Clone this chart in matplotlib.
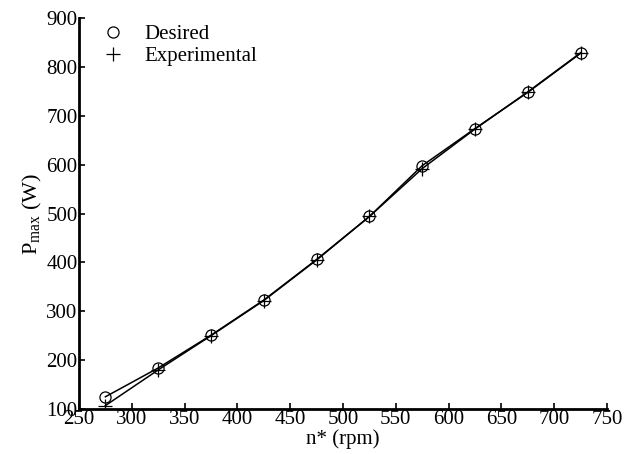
import matplotlib
matplotlib.use('Agg')
import matplotlib.pyplot as plt

# speed (rpm) and max power (W)
speed = [275, 325, 375, 425, 475, 525, 575, 625, 675, 725]
desired = [125, 184, 251, 323, 406, 494, 598, 674, 748, 828]
experimental = [107, 180, 250, 322, 405, 494, 592, 673, 749, 829]

x_ticks = [250, 300, 350, 400, 450, 500, 550, 600, 650, 700, 750]
y_ticks = [100, 200, 300, 400, 500, 600, 700, 800, 900]

plt.rcParams['font.family'] = ['Liberation Serif', 'DejaVu Serif']
plt.rcParams['mathtext.fontset'] = 'custom'
plt.rcParams['mathtext.rm'] = 'Liberation Serif'
plt.rcParams['font.size'] = 15

fig = plt.figure(figsize=(6.34, 4.54), dpi=100)
ax = fig.add_axes([0.1246, 0.0991, 0.8329, 0.8611])

ax.plot(speed, desired, color='black', lw=1.1, marker='o', markersize=8,
        markerfacecolor='none', markeredgewidth=0.9, label='Desired')
ax.plot(speed, experimental, color='black', lw=1.1, marker='+', markersize=10,
        markeredgewidth=0.9, label='Experimental')

ax.set_xlim(250, 750)
ax.set_ylim(100, 900)
ax.set_xticks(x_ticks)
ax.set_yticks(y_ticks)
ax.tick_params(direction='in', length=4, width=1.2, pad=1)

for side in ['top', 'right']:
    ax.spines[side].set_visible(False)
for side in ['left', 'bottom']:
    ax.spines[side].set_linewidth(2)

ax.set_xlabel('n* (rpm)', labelpad=0)
ax.set_ylabel(r'P$_{\mathrm{max}}$ (W)', labelpad=2, fontsize=16)

# legend lines hidden, only markers shown
leg = ax.legend(loc='upper left', frameon=False, handlelength=1.2,
                handletextpad=0.9, borderaxespad=0.2, labelspacing=0.1,
                bbox_to_anchor=(0.017, 1.015))
for h in leg.legend_handles:
    h.set_linestyle('none')

fig.savefig('out.png', dpi=100)
